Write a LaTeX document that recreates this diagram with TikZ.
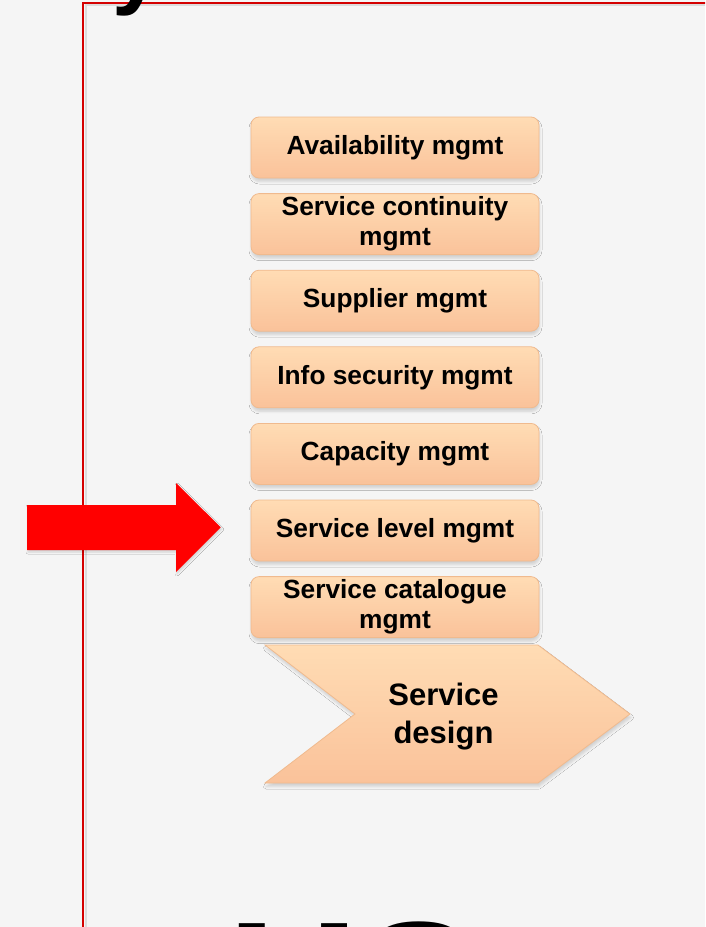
\documentclass[tikz,border=0pt]{standalone}
\usepackage{fontspec}
\setmainfont{Liberation Sans}
\usetikzlibrary{positioning,shadows.blur}

\definecolor{slidebg}{HTML}{F5F5F5}
\definecolor{framered}{HTML}{D40000}
\definecolor{peachtop}{HTML}{FFDCB4}
\definecolor{peachbot}{HTML}{FAC29A}
\definecolor{peachline}{HTML}{F0BA8E}

\begin{document}
\begin{tikzpicture}[x=1pt, y=-1pt,
    proc/.style={draw=peachline, line width=0.8pt, rounded corners=8pt,
                 top color=peachtop, bottom color=peachbot,
                 minimum width=288pt, minimum height=61pt, inner sep=0pt,
                 align=center, font=\fontsize{26.3}{30}\selectfont\bfseries,
                 blur shadow={shadow xshift=0.5pt, shadow yshift=-3.5pt,
                              shadow blur radius=2.5pt, shadow opacity=15}},
    big/.style={inner sep=0pt, anchor=base west, font=\bfseries}
  ]
  \useasboundingbox (0,0) rectangle (705,927);
  \clip (0,0) rectangle (705,927);
  \fill[slidebg] (0,0) rectangle (705,927);

  % slide frame, runs off the page
  \draw[black, opacity=0.1, line width=2pt] (85.5,1000) |- (800,5);
  \draw[framered, line width=1.7pt] (83,1000) |- (800,2.7);

  % title and footer lettering, mostly cut off
  \node[big, font=\fontsize{90}{90}\selectfont\bfseries] (ttl) at (112,-3) {y};
  \node[big, font=\fontsize{180}{180}\selectfont\bfseries] (foot) at (228,1047) {US};

  % process stack
  \node[proc] (avail) at (395,147.5) {Availability mgmt};
  \node[proc, below=14.8pt of avail] (cont) {Service continuity\\mgmt};
  \node[proc, below=14.8pt of cont] (supp) {Supplier mgmt};
  \node[proc, below=14.8pt of supp] (isec) {Info security mgmt};
  \node[proc, below=14.8pt of isec] (capa) {Capacity mgmt};
  \node[proc, below=14.8pt of capa] (slm) {Service level mgmt};
  \node[proc, below=14.8pt of slm] (cat) {Service catalogue\\mgmt};

  % stage chevron
  \path[draw=peachline, line width=0.8pt, top color=peachtop, bottom color=peachbot,
        blur shadow={shadow xshift=1pt, shadow yshift=-3.5pt,
                     shadow blur radius=2.5pt, shadow opacity=15}]
    (265,645) -- (538,645) -- (630,714) -- (538,783) -- (265,783) -- (355,714) -- cycle;
  \node[align=center, inner sep=0pt, font=\fontsize{31}{38}\selectfont\bfseries]
    (design) at (443.5,717) {Service\\design};

  % pointer
  \fill[red, blur shadow={shadow xshift=1pt, shadow yshift=-2pt,
                          shadow blur radius=2pt, shadow opacity=15}]
    (27,505) -- (176,505) -- (176,483) -- (220.7,527.3) -- (176,572)
    -- (176,550) -- (27,550) -- cycle;
\end{tikzpicture}
\end{document}
